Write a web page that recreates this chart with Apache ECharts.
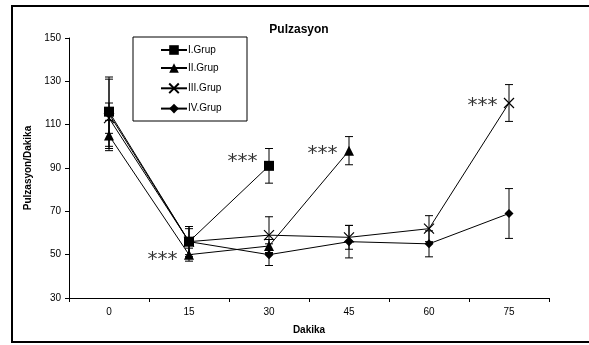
<!DOCTYPE html>
<html><head><meta charset="utf-8">
<script src="https://cdn.jsdelivr.net/npm/echarts@6/dist/echarts.min.js"></script>
<style>html,body{margin:0;padding:0;background:#fff}#c{width:589px;height:345px}</style>
</head><body><div id="c"></div>
<script>
const categories = ['0','15','30','45','60','75'];
const yTicks = {min:30, max:150, interval:20};
const seriesNames = ['I.Grup','II.Grup','III.Grup','IV.Grup'];
const grupI   = [116, 56, 91, null, null, null];
const grupII  = [105, 50, 54, 98, null, null];
const grupIII = [113, 56, 59, 58, 62, 120];
const grupIV  = [115, 56, 50, 56, 55, 69];
const errI    = [16, 7, 8, null, null, null];
const errII   = [7, 3, 3, 6.5, null, null];
const errIII  = [7, 7, 8.5, 5.5, 6, 8.5];
const errIV   = [16, 6, 5, 7.5, 6, 11.5];
const stars = [
  {cat:'15', value:50},
  {cat:'30', value:95},
  {cat:'45', value:99},
  {cat:'75', value:121}
];

const xPath = 'path://M0,0L10,10M10,0L0,10';
const symbols = ['rect','triangle', xPath, 'diamond'];
const sizes = [10, 10, 10, 9];
const values = [grupI, grupII, grupIII, grupIV];
const errs = [errI, errII, errIII, errIV];

const chart = echarts.init(document.getElementById('c'), null, {renderer:'canvas'});
const series = [];
values.forEach((vals, i) => {
  series.push({
    name: seriesNames[i], type: 'line', data: vals, symbol: symbols[i], symbolSize: sizes[i],
    connectNulls: false,
    lineStyle: {color:'#000', width:1},
    itemStyle: {color: i===2 ? 'none' : '#000', borderColor:'#000', borderWidth: i===2 ? 1.2 : 0},
    z: 3
  });
  const eb = [];
  vals.forEach((v, j) => { if (v != null && errs[i][j] != null) eb.push([j, v - errs[i][j], v + errs[i][j]]); });
  series.push({
    type: 'custom', name: seriesNames[i] + ' err', data: eb, z: 2,
    renderItem: (params, api) => {
      const lo = api.coord([api.value(0), api.value(1)]);
      const hi = api.coord([api.value(0), api.value(2)]);
      const w = 4;
      return {type:'group', children:[
        {type:'line', shape:{x1:lo[0],y1:lo[1],x2:hi[0],y2:hi[1]}, style:{stroke:'#000',lineWidth:1}},
        {type:'line', shape:{x1:lo[0]-w,y1:lo[1],x2:lo[0]+w,y2:lo[1]}, style:{stroke:'#000',lineWidth:1}},
        {type:'line', shape:{x1:hi[0]-w,y1:hi[1],x2:hi[0]+w,y2:hi[1]}, style:{stroke:'#000',lineWidth:1}}
      ]};
    }
  });
});
series.push({
  type: 'scatter', name: 'stars', symbolSize: 1, itemStyle:{color:'rgba(0,0,0,0)'},
  data: stars.map(s => [s.cat, s.value]),
  label: {show:true, formatter:'***', position:'left', distance:11, color:'#000', fontSize:20, fontFamily:'DejaVu Sans', offset:[0,5]},
  silent: true
});

chart.setOption({
  animation: false,
  backgroundColor: '#fff',
  title: {text:'Pulzasyon', left: 294, top: 19, textAlign:'center',
    textStyle:{fontSize:12, fontWeight:'bold', fontFamily:'Arial, Liberation Sans', color:'#000'}},
  grid: {left:69, right:40, top:38, bottom:47},
  legend: {
    data: seriesNames, orient:'vertical', left:155, top:40, itemWidth:26, itemHeight:12, itemGap:8,
    textStyle:{fontSize:10, fontFamily:'Arial, Liberation Sans', color:'#000', padding:[0,0,0,-4]}
  },
  graphic: [
    {type:'rect', shape:{x:133, y:37, width:114, height:84}, style:{fill:'none', stroke:'#000', lineWidth:1}, z:-1},
    {type:'rect', shape:{x:12, y:6, width:590, height:336}, style:{fill:'none', stroke:'#000', lineWidth:2}}
  ],
  xAxis: {
    type:'category', data: categories, boundaryGap:true,
    name:'Dakika', nameLocation:'middle', nameGap:27,
    nameTextStyle:{fontSize:10, fontWeight:'bold', fontFamily:'Arial, Liberation Sans', color:'#000'},
    axisLine:{lineStyle:{color:'#000', width:1}},
    axisTick:{show:true, alignWithLabel:false, length:4, lineStyle:{color:'#000'}},
    axisLabel:{fontSize:10, fontFamily:'Arial, Liberation Sans', color:'#000', margin:9},
    splitLine:{show:false}
  },
  yAxis: {
    type:'value', min:yTicks.min, max:yTicks.max, interval:yTicks.interval,
    name:'Pulzasyon/Dakika', nameLocation:'middle', nameGap:29,
    nameTextStyle:{fontSize:10, fontWeight:'bold', fontFamily:'Arial, Liberation Sans', color:'#000'},
    axisLine:{show:true, lineStyle:{color:'#000', width:1}},
    axisTick:{show:true, length:4, lineStyle:{color:'#000'}},
    axisLabel:{fontSize:10, fontFamily:'Arial, Liberation Sans', color:'#000', margin:8},
    splitLine:{show:false}
  },
  series: series
});
</script></body></html>
